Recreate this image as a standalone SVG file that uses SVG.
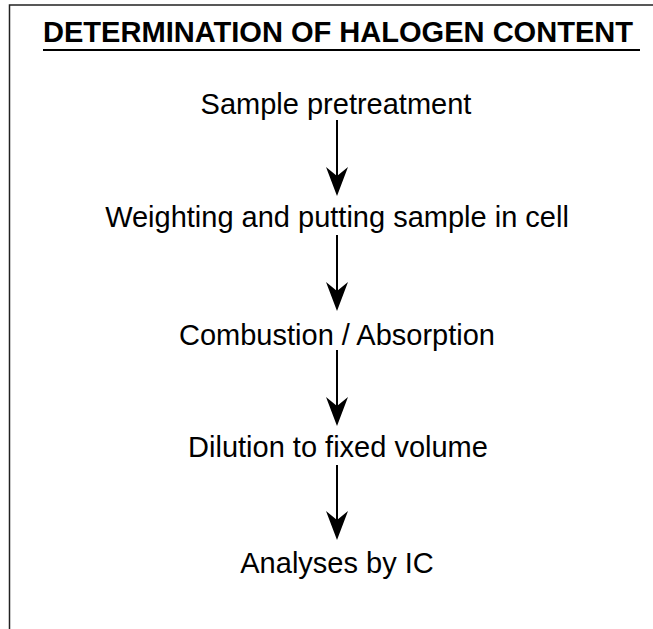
<svg xmlns="http://www.w3.org/2000/svg" width="653" height="629" viewBox="0 0 653 629">
<defs>
<style>
.t{font-family:"Liberation Sans",Arial,sans-serif;font-size:29px;fill:#000;text-anchor:middle}
.title{font-family:"Liberation Sans",Arial,sans-serif;font-size:29px;font-weight:bold;fill:#000}
.shaft{stroke:#000;stroke-width:2;fill:none}
.head{fill:#000;stroke:none}
.frame{stroke:#222;stroke-width:1.5;fill:none}
</style>
<polygon id="ah" class="head" points="0,0 -11,-29 0,-20 11,-29"/>
</defs>
<rect x="0" y="0" width="653" height="629" fill="#fff"/>
<path class="frame" d="M9.5,629 V5 H653"/>
<g id="title">
<text class="title" x="43" y="42" textLength="590" lengthAdjust="spacingAndGlyphs">DETERMINATION OF HALOGEN CONTENT</text>
<line x1="43" y1="50" x2="640" y2="50" stroke="#000" stroke-width="2.2"/>
</g>
<g id="n1"><text class="t" x="336" y="114">Sample pretreatment</text></g>
<g id="n2"><text class="t" x="337" y="227">Weighting and putting sample in cell</text></g>
<g id="n3"><text class="t" x="337" y="345">Combustion / Absorption</text></g>
<g id="n4"><text class="t" x="338" y="457">Dilution to fixed volume</text></g>
<g id="n5"><text class="t" x="337" y="573">Analyses by IC</text></g>
<g id="connectors">
<line class="shaft" x1="337" y1="120" x2="337" y2="180"/>
<use href="#ah" x="337" y="196"/>
<line class="shaft" x1="337" y1="235" x2="337" y2="295"/>
<use href="#ah" x="337" y="311"/>
<line class="shaft" x1="337" y1="350" x2="337" y2="410"/>
<use href="#ah" x="337" y="426"/>
<line class="shaft" x1="337" y1="465" x2="337" y2="524"/>
<use href="#ah" x="337" y="540"/>
</g>
</svg>
